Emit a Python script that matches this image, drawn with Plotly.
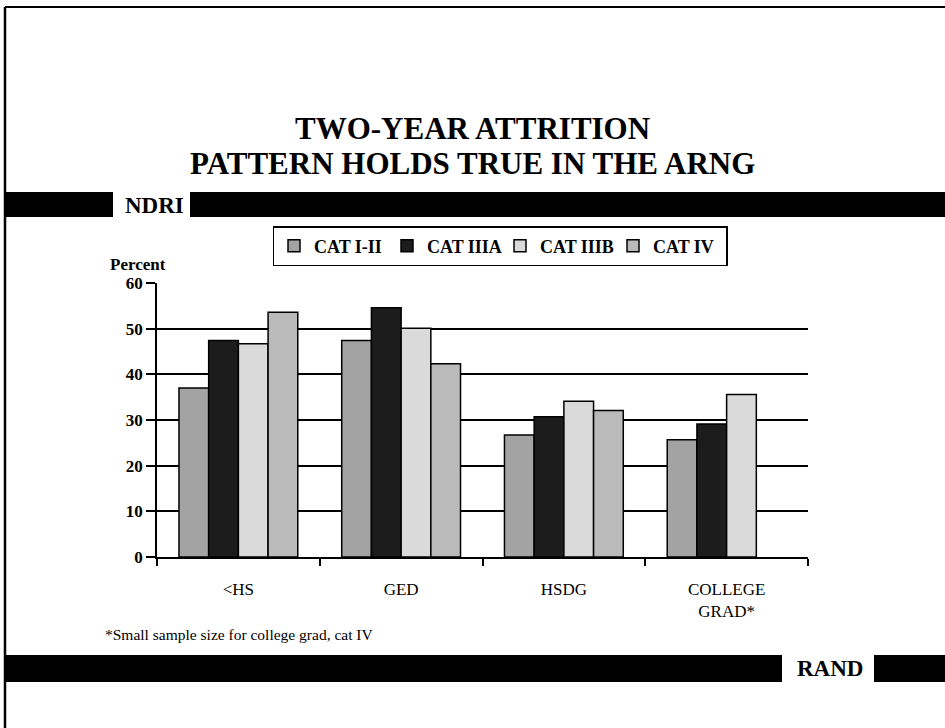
import plotly.graph_objects as go

# ---- data ----
categories = ["<HS", "GED", "HSDG", "COLLEGE<br>GRAD*"]
series_names = ["CAT I-II", "CAT IIIA", "CAT IIIB", "CAT IV"]
cat_1_2 = [37.0, 47.4, 26.7, 25.7]
cat_3a = [47.4, 54.6, 30.7, 29.1]
cat_3b = [46.7, 50.1, 34.1, 35.6]
cat_4 = [53.6, 42.3, 32.1, None]
y_ticks = [0, 10, 20, 30, 40, 50, 60]

series_values = [cat_1_2, cat_3a, cat_3b, cat_4]
colors = ["#a3a3a3", "#1c1c1c", "#dadada", "#bababa"]

W, H = 945, 728
L, R, T, B = 157, 808, 283, 557
SERIF = "Liberation Serif"


def px(x):
    return (x - L) / (R - L)


def py(y):
    return (B - y) / (B - T)


fig = go.Figure()
for name, vals, col in zip(series_names, series_values, colors):
    fig.add_trace(go.Bar(
        x=categories, y=vals, name=name,
        marker=dict(color=col, line=dict(color="black", width=1.5)),
    ))

shapes = []
# border
shapes.append(dict(type="line", xref="paper", yref="paper",
                   x0=px(5), x1=px(5), y0=py(7), y1=py(728),
                   line=dict(color="black", width=2.5)))
shapes.append(dict(type="line", xref="paper", yref="paper",
                   x0=px(5), x1=px(945), y0=py(7), y1=py(7),
                   line=dict(color="black", width=2)))
# top banner
for x0, x1 in [(5, 113), (190, 945)]:
    shapes.append(dict(type="rect", xref="paper", yref="paper",
                       x0=px(x0), x1=px(x1), y0=py(192), y1=py(217),
                       fillcolor="black", line=dict(width=0)))
# bottom banner
for x0, x1 in [(5, 782), (874, 945)]:
    shapes.append(dict(type="rect", xref="paper", yref="paper",
                       x0=px(x0), x1=px(x1), y0=py(655), y1=py(682),
                       fillcolor="black", line=dict(width=0)))

annotations = [
    dict(text="<b>TWO-YEAR ATTRITION</b>", x=px(472), y=py(128),
         font=dict(size=31, family=SERIF, color="black")),
    dict(text="<b>PATTERN HOLDS TRUE IN THE ARNG</b>", x=px(472), y=py(163),
         font=dict(size=31, family=SERIF, color="black")),
    dict(text="<b>NDRI</b>", x=px(154), y=py(205),
         font=dict(size=23, family=SERIF, color="black")),
    dict(text="<b>RAND</b>", x=px(830), y=py(668),
         font=dict(size=23, family=SERIF, color="black")),
    dict(text="<b>Percent</b>", x=px(138), y=py(264),
         font=dict(size=17, family=SERIF, color="black")),
    dict(text="*Small sample size for college grad, cat IV", x=px(103), y=py(634),
         xanchor="left", font=dict(size=15.5, family=SERIF, color="black")),
]
for a in annotations:
    a.setdefault("xanchor", "center")
    a.update(xref="paper", yref="paper", yanchor="middle", showarrow=False)

fig.update_layout(
    width=W, height=H, autosize=False,
    margin=dict(l=L, r=W - R, t=T, b=H - B, pad=0, autoexpand=False),
    paper_bgcolor="white", plot_bgcolor="white",
    barmode="group", bargap=0.27, bargroupgap=0,
    font=dict(family=SERIF, color="black"),
    shapes=shapes, annotations=annotations,
    showlegend=True,
    legend=dict(orientation="h", xref="container", yref="container",
                x=500 / W, y=1 - 226 / H, xanchor="center", yanchor="top",
                bordercolor="black", borderwidth=1.5, bgcolor="white",
                font=dict(size=18, family=SERIF, color="black", weight="bold"),
                itemwidth=30, entrywidth=68, traceorder="normal"),
    xaxis=dict(type="category", tickson="boundaries", ticks="outside", ticklen=7,
               tickcolor="black", tickwidth=1.5, showline=True, linecolor="black",
               linewidth=1.5, showgrid=False, ticklabelstandoff=16,
               tickfont=dict(size=17, family=SERIF, color="black")),
    yaxis=dict(range=[0, 60], tickvals=y_ticks, ticks="outside", ticklen=9,
               tickcolor="black", tickwidth=1.5, showline=True, linecolor="black",
               linewidth=1.5, showgrid=True, gridcolor="black", gridwidth=1.5,
               zeroline=False,
               tickfont=dict(size=17, family=SERIF, color="black", weight="bold")),
)

fig.write_html("out.html", config={"displayModeBar": False},
               post_script="document.body.style.margin='0px';")
